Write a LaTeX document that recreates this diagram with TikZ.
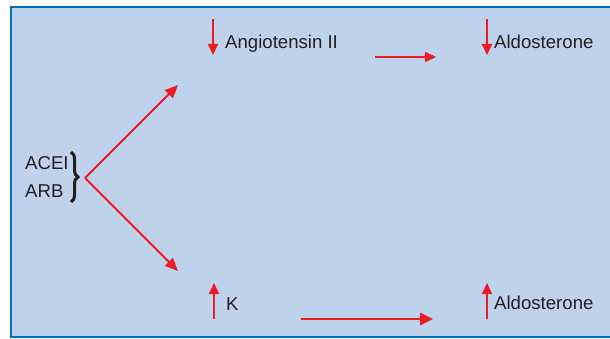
\documentclass[tikz,border=0pt]{standalone}
\usepackage{fontspec}
\setmainfont{Liberation Sans}
\usetikzlibrary{arrows.meta,decorations.pathreplacing}
\definecolor{panel}{RGB}{191,210,235}
\definecolor{frameblue}{RGB}{0,114,188}
\definecolor{arrowred}{RGB}{237,28,36}
\definecolor{ink}{RGB}{35,31,32}
\begin{document}
\begin{tikzpicture}[x=1pt,y=-1pt,
  txt/.style={anchor=base west, inner sep=0pt, text=ink, font=\fontsize{18.6}{20}\selectfont},
  redarrow/.style={draw=arrowred, line width=2pt, -{Triangle[length=11pt,width=10pt]}},
  bigarrow/.style={draw=arrowred, line width=2.8pt, -{Triangle[length=13pt,width=12pt]}},
  diag/.style={draw=arrowred, line width=2pt, -{Triangle[length=13pt,width=11pt]}},
  bracestyle/.style={draw=ink, line width=3pt, decorate, decoration={brace, amplitude=7pt}}]
\useasboundingbox (0,0) rectangle (610,339);
\fill[white] (0,0) rectangle (610,339);
% panel
\draw[frameblue, line width=2.5pt, fill=panel] (11,7) rectangle (616,337);

% drug labels and brace
\node[txt] (acei) at (25,170) {ACEI};
\node[txt] (arb) at (25,197) {ARB};
\coordinate (braceTop) at (71,152);
\coordinate (braceBot) at (71,202);
\draw[bracestyle] (braceTop) -- (braceBot);

% branching arrows
\coordinate (hub) at (85,178);
\coordinate (upEnd) at (178,85);
\coordinate (downEnd) at (178,271);
\draw[diag] (hub) -- (upEnd);
\draw[diag] (hub) -- (downEnd);

% top row
\node[txt] (ang) at (225,49) {Angiotensin II};
\coordinate (angA) at (213,19);
\coordinate (angB) at (213,55);
\draw[redarrow] (angA) -- (angB);
\coordinate (topL) at (375,57);
\coordinate (topR) at (436,57);
\draw[redarrow] (topL) -- (topR);
\node[txt] (aldoTop) at (494,49) {Aldosterone};
\coordinate (aldA) at (487,19);
\coordinate (aldB) at (487,55);
\draw[redarrow] (aldA) -- (aldB);

% bottom row
\node[txt] (kal) at (226,310) {K};
\coordinate (kA) at (214,319);
\coordinate (kB) at (214,283);
\draw[redarrow] (kA) -- (kB);
\coordinate (botL) at (301,319);
\coordinate (botR) at (433,319);
\draw[bigarrow] (botL) -- (botR);
\node[txt] (aldoBot) at (494,309) {Aldosterone};
\coordinate (aldC) at (487,319);
\coordinate (aldD) at (487,283);
\draw[redarrow] (aldC) -- (aldD);
\end{tikzpicture}
\end{document}
